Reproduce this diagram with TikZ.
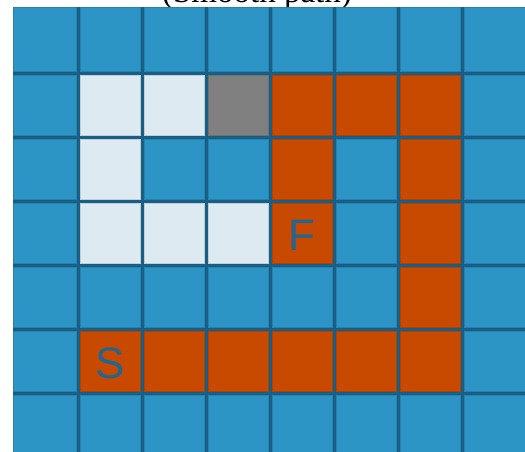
\documentclass[tikz,border=0pt]{standalone}
\usepackage{fontspec}
\setmainfont{Liberation Serif}
\newfontfamily\markfont{Liberation Sans}
\definecolor{gridblue}{HTML}{2D94C6}
\definecolor{gridline}{HTML}{185E85}
\definecolor{pathorange}{HTML}{C84A00}
\definecolor{seenlight}{HTML}{DDEAF2}
\definecolor{wallgray}{HTML}{808080}
\definecolor{markblue}{HTML}{22668F}
\tikzset{
  cell/.style={fill=#1, draw=#1!88!black, line width=0.8pt},
  cellmark/.style={font=\markfont\fontsize{44}{44}\selectfont, text=markblue, inner sep=0pt}
}
\begin{document}
\begin{tikzpicture}[x=1pt,y=-1pt]
\useasboundingbox (0,0) rectangle (525,452);
\begin{scope}
\clip (0,0) rectangle (525,452);
\node[font=\fontsize{33}{33}\selectfont, anchor=base] (caption) at (257,2.5) {(Smooth path)};
% grid
\fill[gridline] (13,7) rectangle (526,453);
\foreach \c in {0,...,7}
  \foreach \r in {0,...,6}{
    \pgfmathsetmacro\xl{\c==0 ? 13 : 16+64*\c}
    \pgfmathsetmacro\xr{\c==7 ? 526 : 76+64*\c}
    \pgfmathsetmacro\yt{\r==0 ? 7 : 11+64*\r}
    \pgfmathsetmacro\yb{\r==6 ? 453 : 71+64*\r}
    \draw[cell=gridblue] (\xl,\yt) rectangle (\xr,\yb);
  }
% visited cells, wall and path
\foreach \c/\r/\col in {1/1/seenlight, 2/1/seenlight, 1/2/seenlight, 1/3/seenlight,
    2/3/seenlight, 3/3/seenlight, 3/1/wallgray,
    4/1/pathorange, 5/1/pathorange, 6/1/pathorange, 4/2/pathorange, 6/2/pathorange,
    4/3/pathorange, 6/3/pathorange, 6/4/pathorange, 1/5/pathorange, 2/5/pathorange,
    3/5/pathorange, 4/5/pathorange, 5/5/pathorange, 6/5/pathorange}
  \draw[cell=\col] ({16+64*\c},{11+64*\r}) rectangle +(60,60);
\node[cellmark] (start) at (110,363) {S};
\node[cellmark] (finish) at (302,235) {F};
\end{scope}
\end{tikzpicture}
\end{document}
